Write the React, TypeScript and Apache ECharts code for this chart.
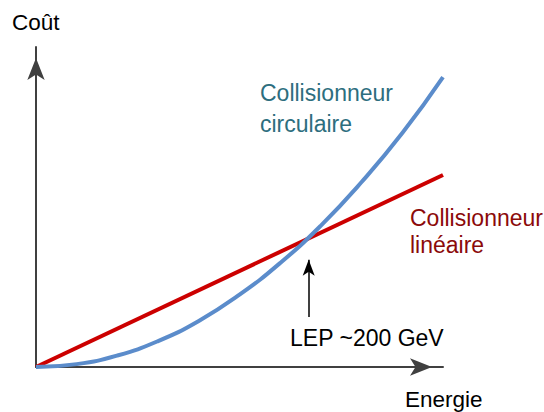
import React, { useEffect, useRef } from "react";
import * as echarts from "echarts";

const energy = [0, 1, 2, 3, 4, 5, 6, 7, 8, 9, 10];
const circularCost = [0, 0.09, 0.36, 0.81, 1.44, 2.26, 3.25, 4.42, 5.78, 7.31, 9.06];
const linearEnergy = [0, 10];
const linearCost = [0, 6.0];
const lepEnergy = 6.7;
const lepArrowFrom = 1.56;
const lepArrowTo = 3.35;
const labels = {
  yName: "Coût",
  xName: "Energie",
  circular: ["Collisionneur", "circulaire"],
  linear: ["Collisionneur", "linéaire"],
  lep: "LEP ~200 GeV",
};

const FONT = "Liberation Sans, Arial, sans-serif";

export default function App() {
  const ref = useRef<HTMLDivElement>(null);
  useEffect(() => {
    if (!ref.current) return;
    const chart = echarts.init(ref.current, null, { renderer: "svg" });
    const txt = (text: string, x: number, y: number, fill: string, size = 23) => ({
      type: "text",
      x,
      y,
      silent: true,
      style: {
        text,
        fill,
        font: `${size}px ${FONT}`,
        align: "left",
        verticalAlign: "middle",
      },
    });
    const axisLine = {
      show: true,
      symbol: ["none", "arrow"],
      symbolSize: [13, 22],
      symbolOffset: [0, -11],
      lineStyle: { color: "#404040", width: 2 },
    };
    chart.setOption({
      animation: false,
      backgroundColor: "#ffffff",
      grid: { left: 36, top: 47, right: 101, bottom: 45 },
      xAxis: {
        type: "value",
        min: 0,
        max: 10,
        axisLine,
        axisTick: { show: false },
        axisLabel: { show: false },
        splitLine: { show: false },
      },
      yAxis: {
        type: "value",
        min: 0,
        max: 10,
        axisLine,
        axisTick: { show: false },
        axisLabel: { show: false },
        splitLine: { show: false },
      },
      series: [
        {
          type: "line",
          data: linearEnergy.map((e, i) => [e, linearCost[i]]),
          showSymbol: false,
          lineStyle: { color: "#cc0000", width: 4 },
          silent: true,
          z: 2,
          markLine: {
            silent: true,
            symbol: ["none", "arrow"],
            symbolSize: [9, 16],
            label: { show: false },
            lineStyle: { color: "#000000", width: 1.5, type: "solid" },
            data: [
              [
                { coord: [lepEnergy, lepArrowFrom] },
                { coord: [lepEnergy, lepArrowTo] },
              ],
            ],
          },
        },
        {
          type: "line",
          data: energy.map((e, i) => [e, circularCost[i]]),
          smooth: true,
          showSymbol: false,
          lineStyle: { color: "#5b8ccb", width: 4 },
          silent: true,
          z: 3,
        },
      ],
      graphic: [
        txt(labels.yName, 12, 22, "#000000", 22.5),
        txt(labels.xName, 405, 399, "#000000", 22.5),
        txt(labels.circular[0], 260, 93, "#2d6e7e"),
        txt(labels.circular[1], 260, 124, "#2d6e7e"),
        txt(labels.linear[0], 410, 218, "#8b0a0a"),
        txt(labels.linear[1], 410, 245, "#8b0a0a"),
        txt(labels.lep, 290, 338, "#000000"),
      ],
    });
    return () => chart.dispose();
  }, []);
  return (
    <div
      ref={ref}
      style={{ position: "absolute", left: 0, top: 0, width: 544, height: 412 }}
    />
  );
}
